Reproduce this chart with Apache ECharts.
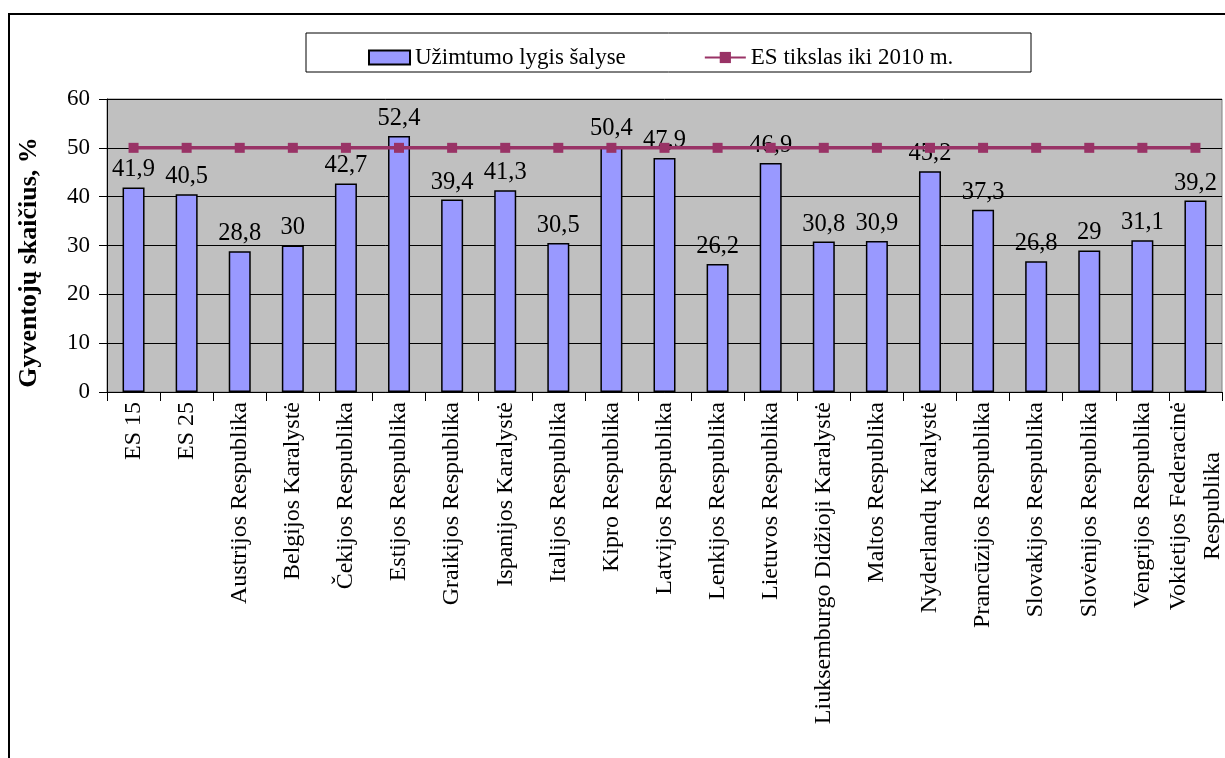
<!DOCTYPE html>
<html>
<head>
<meta charset="utf-8">
<script src="https://cdn.jsdelivr.net/npm/echarts@6/dist/echarts.min.js"></script>
<style>
html,body{margin:0;padding:0;background:#fff;}
#chart{width:1225px;height:758px;}
</style>
</head>
<body>
<div id="chart"></div>
<script>
const categories = [
  "ES 15", "ES 25", "Austrijos Respublika", "Belgijos Karalystė", "Čekijos Respublika",
  "Estijos Respublika", "Graikijos Respublika", "Ispanijos Karalystė", "Italijos Respublika",
  "Kipro Respublika", "Latvijos Respublika", "Lenkijos Respublika", "Lietuvos Respublika",
  "Liuksemburgo Didžioji Karalystė", "Maltos Respublika", "Nyderlandų Karalystė",
  "Prancūzijos Respublika", "Slovakijos Respublika", "Slovėnijos Respublika",
  "Vengrijos Respublika", "Vokietijos Federacinė\nRespublika"
];
const employment = [41.9, 40.5, 28.8, 30, 42.7, 52.4, 39.4, 41.3, 30.5, 50.4, 47.9, 26.2, 46.9, 30.8, 30.9, 45.2, 37.3, 26.8, 29, 31.1, 39.2];
const target2010 = [50, 50, 50, 50, 50, 50, 50, 50, 50, 50, 50, 50, 50, 50, 50, 50, 50, 50, 50, 50, 50];
const seriesNames = ["Užimtumo lygis šalyse", "ES tikslas iki 2010 m."];
const yAxisTitle = "Gyventojų skaičius, %";

const FONT = "'Liberation Serif', 'Times New Roman', serif";
const chart = echarts.init(document.getElementById('chart'));
chart.setOption({
  animation: false,
  textStyle: { fontFamily: FONT },
  graphic: [
    { type: 'rect', shape: { x: 9, y: 14, width: 1240, height: 780 },
      style: { fill: 'none', stroke: '#000', lineWidth: 2 }, z: -10 },
    { type: 'rect', shape: { x: 306, y: 33, width: 725, height: 39 },
      style: { fill: '#fff', stroke: '#000', lineWidth: 1 }, z: -5 }
  ],
  legend: {
    left: 363, top: 41,
    itemWidth: 41, itemHeight: 14, itemGap: 78,
    textStyle: { fontFamily: FONT, fontSize: 23, color: '#000' },
    data: [
      { name: seriesNames[0], icon: 'rect' },
      { name: seriesNames[1] }
    ]
  },
  grid: { left: 107, right: 3, top: 99, bottom: 366, containLabel: false,
          show: true, backgroundColor: '#C0C0C0', borderColor: '#808080', borderWidth: 1 },
  xAxis: {
    type: 'category', data: categories,
    axisLine: { lineStyle: { color: '#000', width: 1 } },
    axisTick: { show: true, length: 9, lineStyle: { color: '#000' } },
    axisLabel: {
      rotate: 90, interval: 0, fontFamily: FONT, fontSize: 24, color: '#000', margin: 10, align: 'right',
      formatter: v => v.split('\n').map(s => '{c|' + s + '}').join('\n'),
      rich: { c: { align: 'center', fontFamily: FONT, fontSize: 24, color: '#000', lineHeight: 34 } }
    }
  },
  yAxis: {
    type: 'value', min: 0, max: 60, interval: 10,
    name: yAxisTitle, nameLocation: 'middle', nameGap: 65,
    nameTextStyle: { fontFamily: FONT, fontSize: 26, fontWeight: 'bold', color: '#000', padding: [0, 34, 0, 0] },
    axisLine: { show: true, lineStyle: { color: '#000' } },
    axisTick: { show: true, length: 8, lineStyle: { color: '#000' } },
    axisLabel: { fontFamily: FONT, fontSize: 23, color: '#000', margin: 17 },
    splitLine: { show: true, lineStyle: { color: '#000', width: 1 } }
  },
  series: [
    {
      name: seriesNames[0], type: 'bar', data: employment, barWidth: 22,
      itemStyle: { color: '#9999FF', borderColor: '#000', borderWidth: 1.5 },
      label: { show: true, position: 'top', distance: 5, fontFamily: FONT, fontSize: 24.5, color: '#000',
               formatter: p => String(p.value).replace('.', ',') }
    },
    {
      name: seriesNames[1], type: 'line', data: target2010,
      symbol: 'rect', symbolSize: 10,
      lineStyle: { color: '#993366', width: 3.5 },
      itemStyle: { color: '#993366' }, z: 5
    }
  ]
});
</script>
</body>
</html>
